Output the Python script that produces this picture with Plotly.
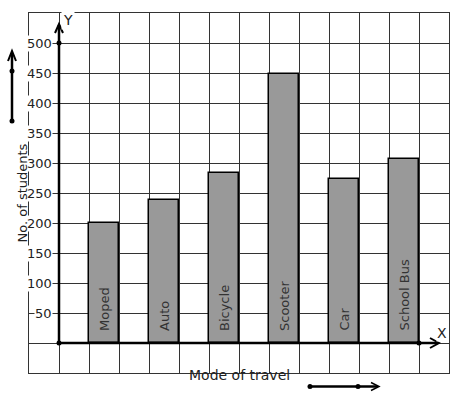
import plotly.graph_objects as go

categories = ["Moped", "Auto", "Bicycle", "Scooter", "Car", "School Bus"]
students = [200, 238, 284, 448, 273, 306]
positions = [1.5, 3.5, 5.5, 7.5, 9.5, 11.5]
y_ticks = [50, 100, 150, 200, 250, 300, 350, 400, 450, 500]

W, H = 457, 399
L, R, T, B = 29, 449, 13, 373
FONT = "DejaVu Sans"


def px(x):
    return (x - L) / (R - L)


def py(y):
    return (B - y) / (B - T)


fig = go.Figure()
fig.add_trace(go.Bar(
    x=positions, y=students, width=1,
    marker=dict(color="#999999", line=dict(color="black", width=1.5)),
    hoverinfo="skip", showlegend=False,
))
# axis dots
fig.add_trace(go.Scatter(
    x=[0, 0, 12], y=[0, 500, 0], mode="markers",
    marker=dict(color="black", size=5), showlegend=False, cliponaxis=False,
))

shapes = []
blk = dict(color="black", width=2.5)
# Y axis with arrow
shapes.append(dict(type="line", xref="paper", yref="paper",
                   x0=px(59), y0=py(343), x1=px(59), y1=py(25), line=blk))
shapes.append(dict(type="path", xref="paper", yref="paper",
                   path=f"M {px(55)} {py(33)} L {px(59)} {py(24)} L {px(63)} {py(33)}",
                   line=dict(color="black", width=2)))
# X axis with arrow
shapes.append(dict(type="line", xref="paper", yref="paper",
                   x0=px(59), y0=py(343), x1=px(438), y1=py(343), line=blk))
shapes.append(dict(type="path", xref="paper", yref="paper",
                   path=f"M {px(430)} {py(338)} L {px(439)} {py(343)} L {px(430)} {py(348)}",
                   line=dict(color="black", width=2)))
# left decorative arrow
shapes.append(dict(type="line", xref="paper", yref="paper",
                   x0=px(12), y0=py(121), x1=px(12), y1=py(53), line=blk))
shapes.append(dict(type="path", xref="paper", yref="paper",
                   path=f"M {px(8)} {py(61)} L {px(12)} {py(51)} L {px(16)} {py(61)}",
                   line=dict(color="black", width=2)))
# bottom decorative arrow
shapes.append(dict(type="line", xref="paper", yref="paper",
                   x0=px(310), y0=py(386.5), x1=px(378), y1=py(386.5), line=blk))
shapes.append(dict(type="path", xref="paper", yref="paper",
                   path=f"M {px(371)} {py(382.5)} L {px(379)} {py(386.5)} L {px(371)} {py(390.5)}",
                   line=dict(color="black", width=1.5)))
for (cx, cy) in [(12, 71), (12, 121), (310, 386.5), (358, 386.5)]:
    shapes.append(dict(type="circle", xref="paper", yref="paper",
                       x0=px(cx - 2.5), x1=px(cx + 2.5), y0=py(cy - 2.5), y1=py(cy + 2.5),
                       fillcolor="black", line=dict(color="black", width=0)))

annotations = []
for v in y_ticks:
    annotations.append(dict(x=0, y=v, xref="x", yref="y", text=str(v), showarrow=False,
                            xanchor="right", yanchor="middle", xshift=-6,
                            bgcolor="white", borderpad=0,
                            font=dict(family=FONT, size=13, color="#222")))
for c, p in zip(categories, positions):
    annotations.append(dict(x=p, y=0, xref="x", yref="y", text=c, showarrow=False,
                            textangle=-90, xanchor="center", yanchor="bottom", yshift=10,
                            font=dict(family=FONT, size=13, color="#333")))
annotations.append(dict(x=px(61), y=py(9.5), xref="paper", yref="paper", text="Y",
                        showarrow=False, bgcolor="white", borderpad=1,
                        font=dict(family=FONT, size=14, color="#222")))
annotations.append(dict(x=px(448), y=py(342), xref="paper", yref="paper", text="X",
                        showarrow=False, bgcolor="white", borderpad=0,
                        font=dict(family=FONT, size=14, color="#222")))
annotations.append(dict(x=px(12), y=py(193), xref="paper", yref="paper",
                        text="No. of students", textangle=-90, showarrow=False,
                        font=dict(family=FONT, size=13, color="#222")))
annotations.append(dict(x=px(239), y=py(385), xref="paper", yref="paper",
                        text="Mode of travel", showarrow=False,
                        font=dict(family=FONT, size=14, color="#222")))

fig.update_layout(
    width=W, height=H,
    margin=dict(l=L, r=W - R, t=T, b=H - B, pad=0),
    paper_bgcolor="white", plot_bgcolor="white",
    xaxis=dict(range=[-1, 13], tick0=-1, dtick=1, showgrid=True, gridcolor="#333",
               gridwidth=1, zeroline=False, showticklabels=False, ticks="",
               showline=True, mirror=True, linecolor="#333", linewidth=1, fixedrange=True),
    yaxis=dict(range=[-50, 550], tick0=-50, dtick=50, showgrid=True, gridcolor="#333",
               gridwidth=1, zeroline=False, showticklabels=False, ticks="",
               showline=True, mirror=True, linecolor="#333", linewidth=1, fixedrange=True),
    shapes=shapes, annotations=annotations, bargap=0,
)

fig.write_html("out.html")
